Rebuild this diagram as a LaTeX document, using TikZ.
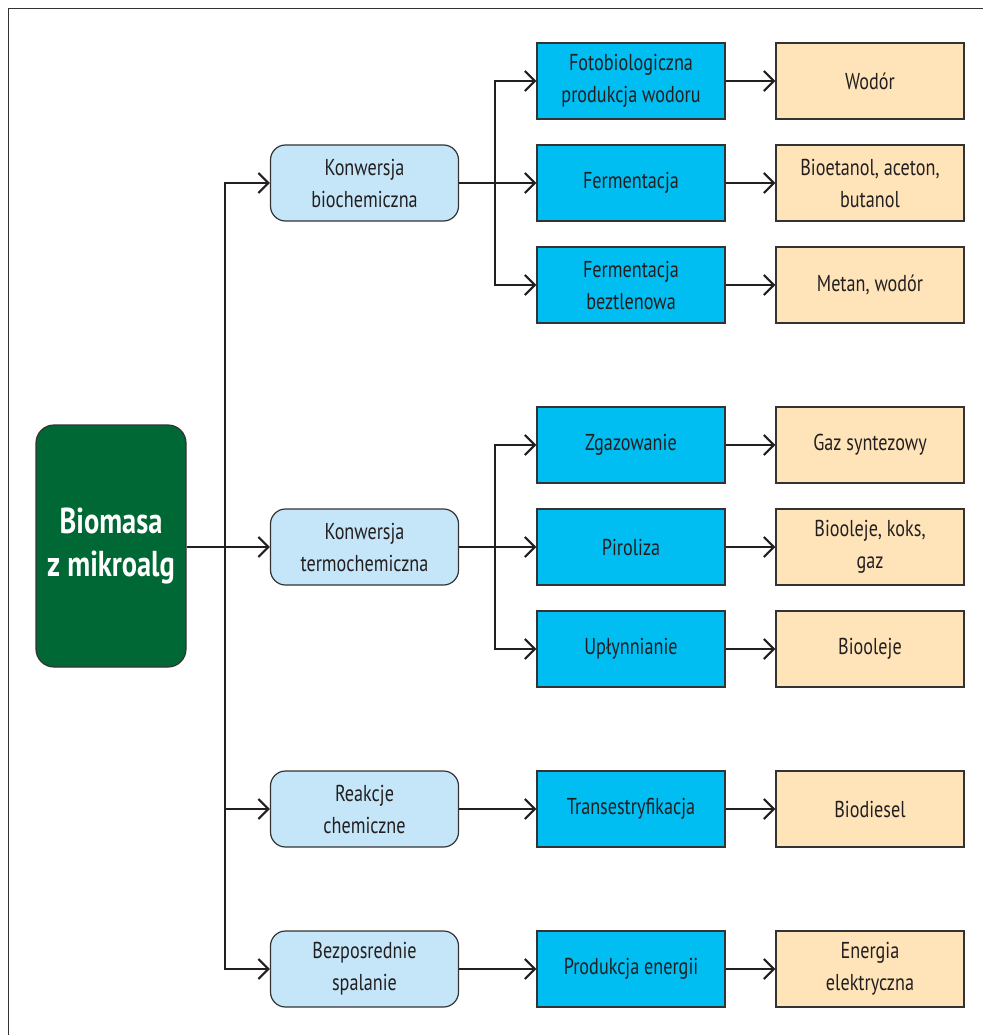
\documentclass[tikz,border=0pt]{standalone}
\usepackage{fontspec}
\setmainfont{PT Sans}[FakeStretch=0.79]
\usetikzlibrary{arrows.meta}
\definecolor{rootgreen}{RGB}{0,104,52}
\definecolor{lightblue}{RGB}{197,230,248}
\definecolor{midblue}{RGB}{0,189,242}
\definecolor{peach}{RGB}{255,228,186}
\definecolor{edge}{RGB}{51,51,51}
\definecolor{txt}{RGB}{35,31,32}
\begin{document}
\begin{tikzpicture}[x=1pt,y=-1pt,
  every node/.style={font=\fontsize{23}{32}\selectfont, text=txt, align=center, inner sep=0pt},
  boxbase/.style={draw=edge, line width=1.2pt, minimum width=188pt, minimum height=76pt},
  lbbox/.style={boxbase, fill=lightblue, rounded corners=15pt},
  bbbox/.style={boxbase, fill=midblue},
  obbox/.style={boxbase, fill=peach},
  rootbox/.style={draw=edge, line width=1.2pt, fill=rootgreen, rounded corners=18pt, minimum width=150pt, minimum height=242pt, text=white, font=\bfseries\fontsize{36}{43}\selectfont},
  ln/.style={draw=txt, line width=2.2pt},
  arr/.style={ln, -{Straight Barb[length=10pt, width=20pt, line width=2.2pt]}}
]
\useasboundingbox (0,0) rectangle (983,1035);
\draw[draw=edge, line width=1.6pt] (8.5,1035) -- (8.5,8.5) -- (983,8.5);

\node[rootbox] (root) at (111,546) {Biomasa\\z mikroalg};

\node[lbbox] (lb1) at (364.5,183) {Konwersja\\biochemiczna};
\node[lbbox] (lb2) at (364.5,547) {Konwersja\\termochemiczna};
\node[lbbox] (lb3) at (364.5,809) {Reakcje\\chemiczne};
\node[lbbox] (lb4) at (364.5,969) {Bezposrednie\\spalanie};

\node[bbbox] (bb1) at (631,81) {Fotobiologiczna\\produkcja wodoru};
\node[bbbox] (bb2) at (631,183) {Fermentacja};
\node[bbbox] (bb3) at (631,285) {Fermentacja\\beztlenowa};
\node[bbbox] (bb4) at (631,445) {Zgazowanie};
\node[bbbox] (bb5) at (631,547) {Piroliza};
\node[bbbox] (bb6) at (631,649) {Upłynnianie};
\node[bbbox] (bb7) at (631,809) {Transestryfikacja};
\node[bbbox] (bb8) at (631,969) {Produkcja energii};

\node[obbox] (ob1) at (870,81) {Wodór};
\node[obbox] (ob2) at (870,183) {Bioetanol, aceton,\\butanol};
\node[obbox] (ob3) at (870,285) {Metan, wodór};
\node[obbox] (ob4) at (870,445) {Gaz syntezowy};
\node[obbox] (ob5) at (870,547) {Biooleje, koks,\\gaz};
\node[obbox] (ob6) at (870,649) {Biooleje};
\node[obbox] (ob7) at (870,809) {Biodiesel};
\node[obbox] (ob8) at (870,969) {Energia\\elektryczna};

% trunk
\coordinate (tr) at (225,547);
\draw[arr] (root.east |- lb2.west) -- (lb2.west);
\draw[arr] (tr) |- (lb1.west);
\draw[arr] (tr) |- (lb4.west);
\draw[arr] (tr |- lb3.west) -- (lb3.west);

% branch 1
\coordinate (br1) at (495,183);
\draw[arr] (lb1.east) -- (bb2.west);
\draw[arr] (br1) |- (bb1.west);
\draw[arr] (br1) |- (bb3.west);
% branch 2
\coordinate (br2) at (495,547);
\draw[arr] (lb2.east) -- (bb5.west);
\draw[arr] (br2) |- (bb4.west);
\draw[arr] (br2) |- (bb6.west);
% single
\draw[arr] (lb3.east) -- (bb7.west);
\draw[arr] (lb4.east) -- (bb8.west);

\foreach \i in {1,...,8} {\draw[arr] (bb\i.east) -- (ob\i.west);}
\end{tikzpicture}
\end{document}
